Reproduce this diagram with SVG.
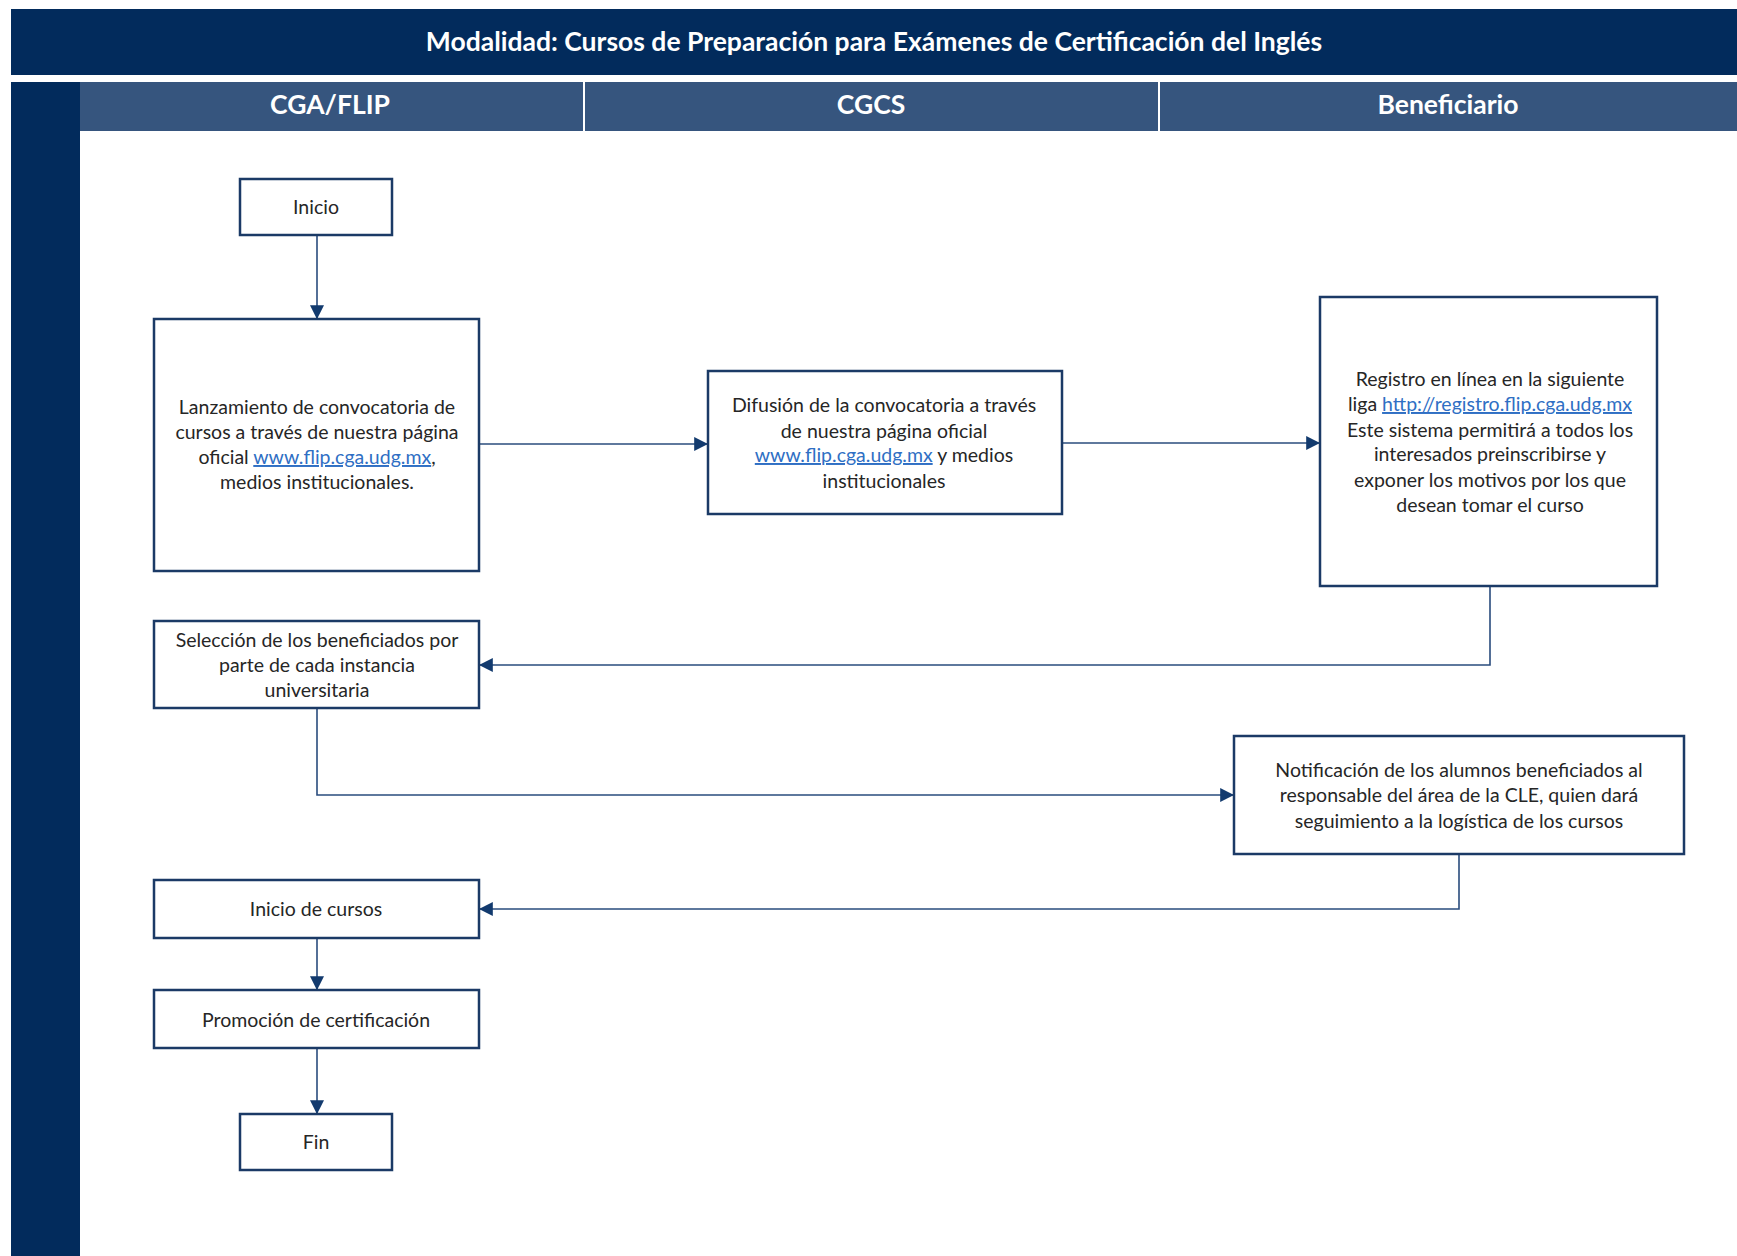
<svg xmlns="http://www.w3.org/2000/svg" width="1737" height="1256" viewBox="0 0 1737 1256">
  <style>
    .band { fill: #022b5c; }
    .lane { fill: #36557e; }
    .title { font-family: Lato, "Open Sans", "Liberation Sans", sans-serif; font-weight: bold; font-size: 26.5px; fill: #ffffff; text-anchor: middle; }
    .box { fill: #ffffff; stroke: #1b3a66; stroke-width: 2.5; }
    .lbl { font-family: Lato, "Open Sans", "Liberation Sans", sans-serif; font-size: 19.5px; fill: #262626; text-anchor: middle; }
    .link { fill: #2f6fc4; text-decoration: underline; }
    .conn { fill: none; stroke: #2a4c7d; stroke-width: 1.6; }
  </style>
  <defs>
    <marker id="arrow" viewBox="0 0 12 12" refX="11" refY="6" markerWidth="14" markerHeight="14" markerUnits="userSpaceOnUse" orient="auto">
      <path d="M0,0 L12,6 L0,12 Z" fill="#123a6e"/>
    </marker>
  </defs>

  <rect width="1737" height="1256" fill="#ffffff"/>

  <!-- title bar and swimlane headers -->
  <g id="header">
    <rect class="band" x="11" y="9" width="1726" height="66"/>
    <text class="title" x="874" y="51">Modalidad: Cursos de Preparación para Exámenes de Certificación del Inglés</text>
    <rect class="band" x="11" y="82" width="69" height="1174"/>
    <rect class="lane" x="80" y="82" width="503" height="49"/>
    <rect class="lane" x="585" y="82" width="573" height="49"/>
    <rect class="lane" x="1160" y="82" width="577" height="49"/>
    <text class="title" x="330" y="114">CGA/FLIP</text>
    <text class="title" x="871" y="114">CGCS</text>
    <text class="title" x="1448" y="114">Beneficiario</text>
  </g>

  <!-- connectors -->
  <g id="connectors">
    <path class="conn" d="M317,235 V318" marker-end="url(#arrow)"/>
    <path class="conn" d="M479,444 H707" marker-end="url(#arrow)"/>
    <path class="conn" d="M1062,443 H1319" marker-end="url(#arrow)"/>
    <path class="conn" d="M1490,586 V665 H480" marker-end="url(#arrow)"/>
    <path class="conn" d="M317,708 V795 H1233" marker-end="url(#arrow)"/>
    <path class="conn" d="M1459,854 V909 H480" marker-end="url(#arrow)"/>
    <path class="conn" d="M317,938 V989" marker-end="url(#arrow)"/>
    <path class="conn" d="M317,1048 V1113" marker-end="url(#arrow)"/>
  </g>

  <g id="inicio">
    <rect class="box" x="240" y="179" width="152" height="56"/>
    <text class="lbl" x="316" y="214">Inicio</text>
  </g>

  <g id="lanzamiento">
    <rect class="box" x="154" y="319" width="325" height="252"/>
    <text class="lbl" x="317" y="414">Lanzamiento de convocatoria de</text>
    <text class="lbl" x="317" y="439">cursos a través de nuestra página</text>
    <text class="lbl" x="317" y="464">oficial <tspan class="link">www.flip.cga.udg.mx</tspan>,</text>
    <text class="lbl" x="317" y="489">medios institucionales.</text>
  </g>

  <g id="difusion">
    <rect class="box" x="708" y="371" width="354" height="143"/>
    <text class="lbl" x="884" y="412">Difusión de la convocatoria a través</text>
    <text class="lbl" x="884" y="438">de nuestra página oficial</text>
    <text class="lbl" x="884" y="462"><tspan class="link">www.flip.cga.udg.mx</tspan> y medios</text>
    <text class="lbl" x="884" y="488">institucionales</text>
  </g>

  <g id="registro">
    <rect class="box" x="1320" y="297" width="337" height="289"/>
    <text class="lbl" x="1490" y="386">Registro en línea en la siguiente</text>
    <text class="lbl" x="1490" y="411">liga <tspan class="link">http://registro.flip.cga.udg.mx</tspan></text>
    <text class="lbl" x="1490" y="437">Este sistema permitirá a todos los</text>
    <text class="lbl" x="1490" y="461">interesados preinscribirse y</text>
    <text class="lbl" x="1490" y="487">exponer los motivos por los que</text>
    <text class="lbl" x="1490" y="512">desean tomar el curso</text>
  </g>

  <g id="seleccion">
    <rect class="box" x="154" y="621" width="325" height="87"/>
    <text class="lbl" x="317" y="647">Selección de los beneficiados por</text>
    <text class="lbl" x="317" y="672">parte de cada instancia</text>
    <text class="lbl" x="317" y="697">universitaria</text>
  </g>

  <g id="notificacion">
    <rect class="box" x="1234" y="736" width="450" height="118"/>
    <text class="lbl" x="1459" y="777">Notificación de los alumnos beneficiados al</text>
    <text class="lbl" x="1459" y="802">responsable del área de la CLE, quien dará</text>
    <text class="lbl" x="1459" y="828">seguimiento a la logística de los cursos</text>
  </g>

  <g id="inicio-cursos">
    <rect class="box" x="154" y="880" width="325" height="58"/>
    <text class="lbl" x="316" y="916">Inicio de cursos</text>
  </g>

  <g id="promocion">
    <rect class="box" x="154" y="990" width="325" height="58"/>
    <text class="lbl" x="316" y="1027">Promoción de certificación</text>
  </g>

  <g id="fin">
    <rect class="box" x="240" y="1114" width="152" height="56"/>
    <text class="lbl" x="316" y="1149">Fin</text>
  </g>
</svg>
